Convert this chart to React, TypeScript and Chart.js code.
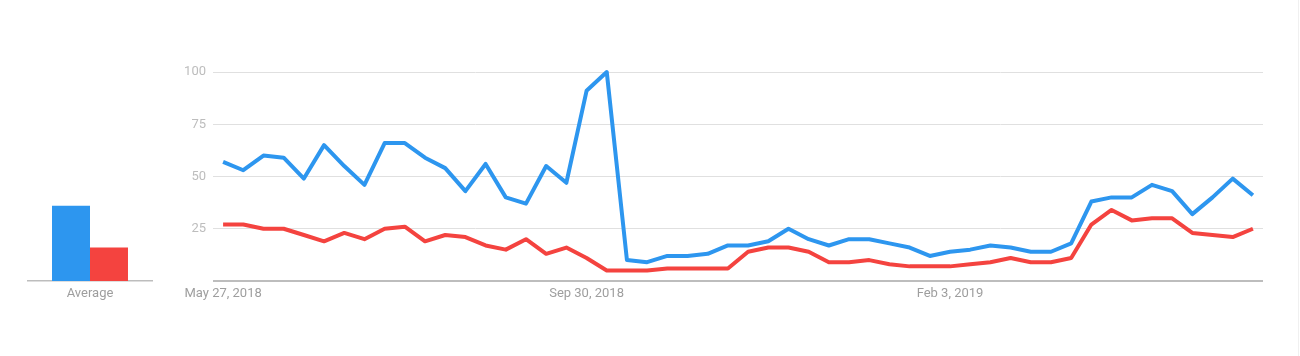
import React, { useEffect, useRef } from "react";
import { Chart, registerables } from "chart.js";

Chart.register(...registerables);

const weeks = [
  "May 27, 2018", "Jun 3, 2018", "Jun 10, 2018", "Jun 17, 2018", "Jun 24, 2018",
  "Jul 1, 2018", "Jul 8, 2018", "Jul 15, 2018", "Jul 22, 2018", "Jul 29, 2018",
  "Aug 5, 2018", "Aug 12, 2018", "Aug 19, 2018", "Aug 26, 2018", "Sep 2, 2018",
  "Sep 9, 2018", "Sep 16, 2018", "Sep 23, 2018", "Sep 30, 2018", "Oct 7, 2018",
  "Oct 14, 2018", "Oct 21, 2018", "Oct 28, 2018", "Nov 4, 2018", "Nov 11, 2018",
  "Nov 18, 2018", "Nov 25, 2018", "Dec 2, 2018", "Dec 9, 2018", "Dec 16, 2018",
  "Dec 23, 2018", "Dec 30, 2018", "Jan 6, 2019", "Jan 13, 2019", "Jan 20, 2019",
  "Jan 27, 2019", "Feb 3, 2019", "Feb 10, 2019", "Feb 17, 2019", "Feb 24, 2019",
  "Mar 3, 2019", "Mar 10, 2019", "Mar 17, 2019", "Mar 24, 2019", "Mar 31, 2019",
  "Apr 7, 2019", "Apr 14, 2019", "Apr 21, 2019", "Apr 28, 2019", "May 5, 2019",
  "May 12, 2019", "May 19, 2019",
];

const shownTicks = ["May 27, 2018", "Sep 30, 2018", "Feb 3, 2019"];

const blueSeries = [
  57, 53, 60, 59, 49, 65, 55, 46, 66, 66, 59, 54,
  43, 56, 40, 37, 55, 47, 91, 100,
  10, 9, 12, 12, 13, 17, 17, 19, 25, 20, 17, 20, 20, 18, 16, 12, 14, 15, 17, 16,
  14, 14, 18, 38, 40, 40, 46, 43, 32, 40, 49, 41,
];

const redSeries = [
  27, 27, 25, 25, 22, 19, 23, 20, 25, 26, 19, 22,
  21, 17, 15, 20, 13, 16, 11, 5,
  5, 5, 6, 6, 6, 6, 14, 16, 16, 14, 9, 9, 10, 8, 7, 7, 7, 8, 9, 11,
  9, 9, 11, 27, 34, 29, 30, 30, 23, 22, 21, 25,
];

const averageLabels = ["Average"];
const blueAverage = [36];
const redAverage = [16];

const yTicks = [0, 25, 50, 75, 100];

const BLUE = "#2d96ef";
const RED = "#f4433f";
const FONT = { family: "Roboto", size: 13 };

export default function App() {
  const mainRef = useRef<HTMLCanvasElement | null>(null);
  const avgRef = useRef<HTMLCanvasElement | null>(null);

  useEffect(() => {
    const main = new Chart(mainRef.current as HTMLCanvasElement, {
      type: "line",
      data: {
        labels: weeks,
        datasets: [
          {
            data: blueSeries,
            borderColor: BLUE,
            backgroundColor: BLUE,
            borderWidth: 4,
            pointRadius: 0,
            tension: 0,
            clip: false,
            borderJoinStyle: "round",
          } as any,
          {
            data: redSeries,
            borderColor: RED,
            backgroundColor: RED,
            borderWidth: 4,
            pointRadius: 0,
            tension: 0,
            clip: false,
            borderJoinStyle: "round",
          } as any,
        ],
      },
      options: {
        animation: false,
        responsive: false,
        maintainAspectRatio: false,
        layout: { padding: { top: 72, right: 37, left: 0, bottom: 0 } },
        plugins: { legend: { display: false }, tooltip: { enabled: false } },
        scales: {
          x: {
            offset: true,
            grid: { display: false },
            border: { display: false },
            ticks: {
              autoSkip: false,
              maxRotation: 0,
              minRotation: 0,
              padding: -3,
              color: "#9e9e9e",
              font: FONT,
              callback: (_v: any, i: number) =>
                shownTicks.includes(weeks[i]) ? weeks[i] : null,
            },
            afterFit: (s: any) => {
              s.height = 75;
            },
          },
          y: {
            min: 0,
            max: 100,
            afterBuildTicks: (s: any) => {
              s.ticks = yTicks.map((v) => ({ value: v }));
            },
            grid: {
              color: (ctx: any) => (ctx.tick && ctx.tick.value === 0 ? "#bdbdbd" : "#e0e0e0"),
              lineWidth: (ctx: any) => (ctx.tick && ctx.tick.value === 0 ? 2 : 1),
              drawTicks: false,
            },
            border: { display: false },
            ticks: {
              padding: 7,
              color: "#bdbdbd",
              font: FONT,
              callback: (v: any) => (v === 0 ? "" : String(v)),
            },
            afterFit: (s: any) => {
              s.width = 53;
            },
          },
        },
      } as any,
    });

    const avg = new Chart(avgRef.current as HTMLCanvasElement, {
      type: "bar",
      data: {
        labels: averageLabels,
        datasets: [
          {
            data: blueAverage,
            backgroundColor: BLUE,
            categoryPercentage: 0.603,
            barPercentage: 1,
          },
          {
            data: redAverage,
            backgroundColor: RED,
            categoryPercentage: 0.603,
            barPercentage: 1,
          },
        ],
      },
      options: {
        animation: false,
        responsive: false,
        maintainAspectRatio: false,
        layout: { padding: { top: 72, right: 0, left: 0, bottom: 0 } },
        plugins: { legend: { display: false }, tooltip: { enabled: false } },
        scales: {
          x: {
            grid: { display: false },
            border: { display: true, color: "#bdbdbd", width: 1.5 },
            ticks: { padding: -3, color: "#9e9e9e", font: FONT, maxRotation: 0 },
            afterFit: (s: any) => {
              s.height = 75;
            },
          },
          y: { display: false, min: 0, max: 100 },
        },
      } as any,
    });

    return () => {
      main.destroy();
      avg.destroy();
    };
  }, []);

  return (
    <div
      style={{
        position: "absolute",
        left: 0,
        top: 0,
        width: 1300,
        height: 356,
        background: "#ffffff",
        overflow: "hidden",
      }}
    >
      <div style={{ position: "absolute", left: 27, top: 0, width: 126, height: 356 }}>
        <canvas ref={avgRef} width={126} height={356} style={{ width: 126, height: 356 }} />
      </div>
      <div style={{ position: "absolute", left: 160, top: 0, width: 1140, height: 356 }}>
        <canvas ref={mainRef} width={1140} height={356} style={{ width: 1140, height: 356 }} />
      </div>
      <div
        style={{
          position: "absolute",
          left: 1298,
          top: 0,
          width: 1,
          height: 356,
          background: "#f0f0f0",
        }}
      />
    </div>
  );
}
